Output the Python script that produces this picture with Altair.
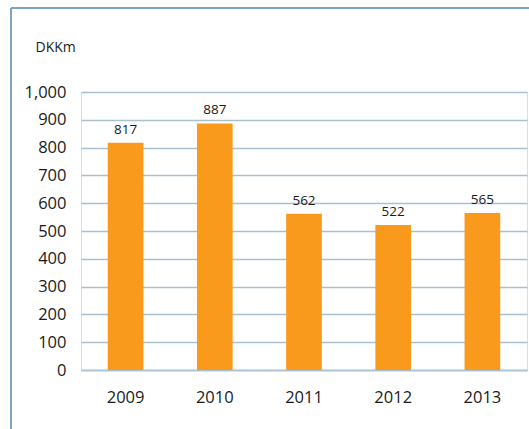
import altair as alt
import pandas as pd

years = ["2009", "2010", "2011", "2012", "2013"]
values = [817, 887, 562, 522, 565]
y_ticks = [0, 100, 200, 300, 400, 500, 600, 700, 800, 900, 1000]

df = pd.DataFrame({"year": years, "value": values})

FONT = "Open Sans"
GRID = "#A9C0D0"
BORDER = "#7FA3BC"
BAR = "#F99A1C"

x_enc = alt.X("year:N", sort=years,
              scale=alt.Scale(paddingInner=0.6, paddingOuter=0.3),
              axis=alt.Axis(title=None, labelAngle=0, labelFontSize=16.5, labelPadding=19,
                            ticks=False, domainColor=GRID, domainWidth=1.5,
                            labelColor="#1a1a1a", labelFont=FONT))
y_enc = alt.Y("value:Q", scale=alt.Scale(domain=[0, 1000]),
              axis=alt.Axis(values=y_ticks, format=",.0f", title="DKKm",
                            labelOverlap=False, tickCount=11,
                            titleAngle=0, titleAlign="left", titleBaseline="middle",
                            titleX=-46, titleY=-45, titleFontWeight="normal",
                            titleFontSize=14, titleFont=FONT, titleColor="#1a1a1a",
                            labelFontSize=16.5, labelPadding=15, labelColor="#1a1a1a",
                            labelFont=FONT, ticks=False, domain=False,
                            gridColor=GRID, gridWidth=1.5))

base = alt.Chart(df).encode(x=x_enc, y=y_enc)

bars = base.mark_bar(color=BAR)

labels = base.mark_text(dy=-13, fontSize=13.5, font=FONT, color="#1a1a1a").encode(
    text="value:Q",
)

border_left = alt.Chart(df).mark_rule(color=BORDER, strokeWidth=2, clip=False).encode(
    x=alt.value(-70), y=alt.value(-84), y2=alt.value(400)
)
border_top = alt.Chart(df).mark_rule(color=BORDER, strokeWidth=2, clip=False).encode(
    x=alt.value(-70), x2=alt.value(500), y=alt.value(-84)
)

chart = alt.layer(bars, labels, border_left, border_top).properties(
    width=446, height=278,
    autosize=alt.AutoSizeParams(type="none"),
    padding={"left": 81, "top": 92, "right": 2, "bottom": 59},
).configure_view(stroke=None).configure(background="white")

chart.save("out.html", embed_options={"renderer": "svg", "actions": False})
